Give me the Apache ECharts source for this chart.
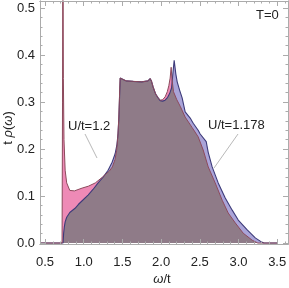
<!DOCTYPE html>
<html><head><meta charset="utf-8">
<script src="https://cdn.jsdelivr.net/npm/echarts@6/dist/echarts.min.js"></script>
<style>html,body{margin:0;padding:0;background:#fff;}#c{width:289px;height:288px;}</style>
</head><body><div id="c"></div>
<script>
// U/t = 1.2 (pink)
const omegaU12 = [0.435, 0.72, 0.726, 0.731, 0.737, 0.745, 0.76, 0.78, 0.82, 0.88, 0.98, 1.06, 1.15, 1.24, 1.28, 1.33, 1.37, 1.405, 1.425, 1.44, 1.452, 1.462, 1.47, 1.49, 1.55, 1.64, 1.75, 1.83, 1.858, 1.875, 1.897, 1.93, 1.962, 1.988, 2.02, 2.052, 2.08, 2.1, 2.117, 2.13, 2.14, 2.16, 2.2, 2.25, 2.311, 2.4, 2.479, 2.544, 2.609, 2.699, 2.79, 2.867, 2.958, 3.061, 3.178, 3.25, 3.5];
const rhoU12 = [0, 0, 0.3, 0.7, 0.35, 0.22, 0.155, 0.128, 0.112, 0.111, 0.117, 0.121, 0.128, 0.14, 0.146, 0.153, 0.162, 0.178, 0.197, 0.225, 0.26, 0.31, 0.351, 0.348, 0.345, 0.344, 0.343, 0.345, 0.35, 0.345, 0.332, 0.317, 0.309, 0.304, 0.305, 0.311, 0.322, 0.335, 0.351, 0.374, 0.35, 0.322, 0.306, 0.29, 0.268, 0.246, 0.226, 0.198, 0.162, 0.128, 0.091, 0.064, 0.043, 0.021, 0.006, 0, 0];
// U/t = 1.178 (blue)
const omegaU1178 = [0.435, 0.733, 0.74, 0.75, 0.76, 0.78, 0.82, 0.888, 0.93, 0.98, 1.056, 1.12, 1.186, 1.25, 1.315, 1.367, 1.406, 1.43, 1.444, 1.455, 1.465, 1.472, 1.49, 1.55, 1.64, 1.75, 1.83, 1.858, 1.875, 1.897, 1.93, 1.962, 1.988, 2.02, 2.052, 2.085, 2.11, 2.135, 2.152, 2.169, 2.19, 2.208, 2.24, 2.272, 2.311, 2.376, 2.415, 2.479, 2.505, 2.583, 2.609, 2.66, 2.738, 2.829, 2.919, 2.997, 3.113, 3.217, 3.3, 3.33, 3.5];
const rhoU1178 = [0, 0, 0.02, 0.035, 0.045, 0.055, 0.065, 0.074, 0.082, 0.09, 0.102, 0.114, 0.128, 0.14, 0.155, 0.172, 0.19, 0.21, 0.234, 0.27, 0.32, 0.351, 0.348, 0.345, 0.344, 0.343, 0.345, 0.35, 0.345, 0.332, 0.317, 0.309, 0.303, 0.302, 0.304, 0.31, 0.318, 0.33, 0.36, 0.389, 0.36, 0.343, 0.325, 0.309, 0.279, 0.266, 0.255, 0.24, 0.232, 0.216, 0.193, 0.162, 0.128, 0.096, 0.07, 0.049, 0.028, 0.011, 0.002, 0, 0];

const xTickLabels = [0.5, 1.0, 1.5, 2.0, 2.5, 3.0, 3.5];
const xMinorTicks = [0.5,0.6,0.7,0.8,0.9,1.0,1.1,1.2,1.3,1.4,1.5,1.6,1.7,1.8,1.9,2.0,2.1,2.2,2.3,2.4,2.5,2.6,2.7,2.8,2.9,3.0,3.1,3.2,3.3,3.4,3.5,3.6];
const yTickLabels = [0.0, 0.1, 0.2, 0.3, 0.4, 0.5];
const yMinorTicks = [0,0.02,0.04,0.06,0.08,0.1,0.12,0.14,0.16,0.18,0.2,0.22,0.24,0.26,0.28,0.3,0.32,0.34,0.36,0.38,0.4,0.42,0.44,0.46,0.48,0.5];

const pairs = (xs, ys) => xs.map((x, i) => [x, ys[i]]);
const XMIN = 0.435, XMAX = 3.64, YMIN = -0.002, YMAX = 0.515;
const FRAME = '#ababab';
const FONT = 'Liberation Sans, Arial, sans-serif';
const RICH = { i: { fontStyle: 'italic', fontSize: 13, fontFamily: FONT, fill: '#222', color: '#222' } };

function axis(kind, pos, ticks, len, labels) {
  return {
    type: 'value', position: pos, min: kind === 'x' ? XMIN : YMIN, max: kind === 'x' ? XMAX : YMAX,
    z: 10, silent: true,
    axisLine: { show: true, onZero: false, lineStyle: { color: FRAME, width: 1 } },
    axisTick: { show: true, inside: true, length: len, customValues: ticks, lineStyle: { color: FRAME, width: 1 } },
    axisLabel: labels ? {
      show: true, customValues: labels, formatter: v => v.toFixed(1),
      color: '#222', fontSize: 13, fontFamily: FONT, margin: kind === 'x' ? 12 : 5
    } : { show: false },
    splitLine: { show: false }
  };
}

const chart = echarts.init(document.getElementById('c'), null, { renderer: 'canvas' });
chart.setOption({
  animation: false,
  grid: { left: 40, right: 1, top: 1, bottom: 44, containLabel: false, outerBoundsMode: 'none' },
  xAxis: [
    axis('x', 'bottom', xTickLabels, 5, xTickLabels),
    axis('x', 'bottom', xMinorTicks, 2.5, null),
    axis('x', 'top', xTickLabels, 5, null),
    axis('x', 'top', xMinorTicks, 2.5, null)
  ],
  yAxis: [
    axis('y', 'left', yTickLabels, 5, yTickLabels),
    axis('y', 'left', yMinorTicks, 2.5, null),
    axis('y', 'right', yTickLabels, 5, null),
    axis('y', 'right', yMinorTicks, 2.5, null)
  ],
  series: [
    { name: 'area1178', type: 'line', data: pairs(omegaU1178, rhoU1178), showSymbol: false, silent: true, z: 2,
      lineStyle: { width: 0 }, areaStyle: { color: '#aaa4d8', opacity: 1 } },
    { name: 'overlap', type: 'line', data: pairs(omegaU12, rhoU12), showSymbol: false, silent: true, z: 3,
      blendMode: 'source-atop', lineStyle: { width: 0 }, areaStyle: { color: '#8f7b88', opacity: 1 } },
    { name: 'area12', type: 'line', data: pairs(omegaU12, rhoU12), showSymbol: false, silent: true, z: 4,
      blendMode: 'destination-over', lineStyle: { width: 0 }, areaStyle: { color: '#ee8ab6', opacity: 1 } },
    { name: 'U/t=1.178', type: 'line', data: pairs(omegaU1178, rhoU1178), showSymbol: false, silent: true, z: 5,
      lineStyle: { color: '#3d3b7a', width: 1.1 } },
    { name: 'U/t=1.2', type: 'line', data: pairs(omegaU12, rhoU12), showSymbol: false, silent: true, z: 6,
      lineStyle: { color: '#8c4a5c', width: 1 } }
  ],
  graphic: [
    { type: 'text', x: 162, y: 279, z: 20, silent: true,
      style: { text: '{i|ω}/t', rich: RICH, fontSize: 13, fontFamily: FONT, fill: '#222', align: 'center', verticalAlign: 'middle' } },
    { type: 'text', x: 8, y: 128, rotation: Math.PI / 2, z: 20, silent: true,
      style: { text: 't {i|ρ}({i|ω})', rich: RICH, fontSize: 13, fontFamily: FONT, fill: '#222', align: 'center', verticalAlign: 'middle' } },
    { type: 'text', left: 68, top: 120, z: 20, silent: true,
      style: { text: 'U/t=1.2', fontSize: 13, fontFamily: FONT, fill: '#222' } },
    { type: 'line', z: 20, silent: true, shape: { x1: 85, y1: 134, x2: 97, y2: 158 },
      style: { stroke: '#999', lineWidth: 0.7 } },
    { type: 'text', left: 208, top: 119, z: 20, silent: true,
      style: { text: 'U/t=1.178', fontSize: 13, fontFamily: FONT, fill: '#222' } },
    { type: 'line', z: 20, silent: true, shape: { x1: 238, y1: 134, x2: 214, y2: 168 },
      style: { stroke: '#999', lineWidth: 0.7 } },
    { type: 'text', left: 256, top: 9, z: 20, silent: true,
      style: { text: 'T=0', fontSize: 13, fontFamily: FONT, fill: '#222' } }
  ]
});
</script>
</body></html>
